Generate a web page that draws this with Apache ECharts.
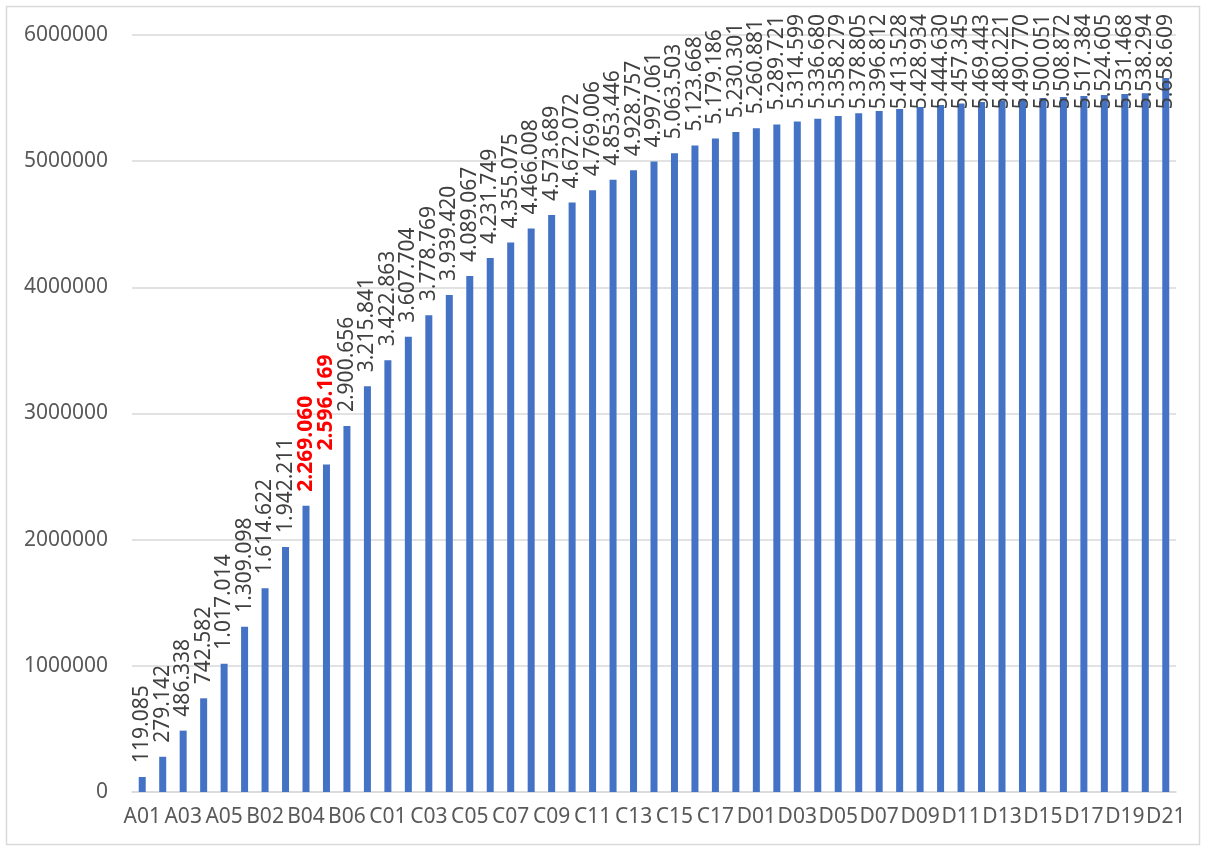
<!DOCTYPE html>
<html>
<head>
<meta charset="utf-8">
<script src="https://cdn.jsdelivr.net/npm/echarts@6/dist/echarts.min.js"></script>
<style>html,body{margin:0;padding:0;background:#fff}#c{width:1206px;height:850px}</style>
</head>
<body>
<div id="c"></div>
<script>
const categories = [
  'A01','A02','A03','A04','A05',
  'B01','B02','B03','B04','B05','B06','B07',
  'C01','C02','C03','C04','C05','C06','C07','C08','C09','C10','C11','C12','C13','C14','C15','C16','C17','C18',
  'D01','D02','D03','D04','D05','D06','D07','D08','D09','D10','D11','D12','D13','D14','D15','D16','D17','D18','D19','D20','D21'
];
const values = [
  119085, 279142, 486338, 742582, 1017014,
  1309098, 1614622, 1942211, 2269060, 2596169, 2900656, 3215841,
  3422863, 3607704, 3778769, 3939420, 4089067, 4231749, 4355075, 4466008, 4573689, 4672072, 4769006, 4853446, 4928757, 4997061, 5063503, 5123668, 5179186, 5230301,
  5260881, 5289721, 5314599, 5336680, 5358279, 5378805, 5396812, 5413528, 5428934, 5444630, 5457345, 5469443, 5480221, 5490770, 5500051, 5508872, 5517384, 5524605, 5531468, 5538294, 5658609
];
const highlighted = ['B04', 'B05'];
const yTicks = { min: 0, max: 6000000, interval: 1000000 };

function fmt(v) {
  return String(v).replace(/\B(?=(\d{3})+(?!\d))/g, '.');
}

const FONT = '"Noto Sans", sans-serif';
const LABEL_TOP_LIMIT = 14;
const data = values.map((v, i) => {
  const item = { value: v };
  if (highlighted.includes(categories[i])) {
    item.label = { color: '#FF0000', fontWeight: 'bold' };
  }
  return item;
});

const chart = echarts.init(document.getElementById('c'), null, { renderer: 'canvas' });
chart.setOption({
  animation: false,
  backgroundColor: '#fff',
  graphic: [{
    type: 'rect',
    shape: { x: 6.5, y: 6.5, width: 1193, height: 838 },
    style: { fill: 'none', stroke: '#D9D9D9', lineWidth: 1.5 },
    silent: true
  }],
  grid: { left: 132, right: 30, top: 35, bottom: 58, containLabel: false },
  xAxis: {
    type: 'category',
    data: categories,
    axisLine: { lineStyle: { color: '#D9D9D9', width: 1.5 } },
    axisTick: { show: false },
    axisLabel: { interval: 1, color: '#595959', fontSize: 21, fontFamily: FONT, margin: 15 }
  },
  yAxis: {
    type: 'value',
    min: yTicks.min, max: yTicks.max, interval: yTicks.interval,
    axisLine: { show: false },
    axisTick: { show: false },
    splitLine: { lineStyle: { color: '#D9D9D9', width: 1.5 } },
    axisLabel: { color: '#595959', fontSize: 21, fontFamily: FONT, margin: 24, formatter: v => String(v) }
  },
  series: [{
    type: 'bar',
    data: data,
    barWidth: 7,
    itemStyle: { color: '#4472C4' },
    label: {
      show: true,
      position: 'top',
      rotate: 90,
      align: 'left',
      verticalAlign: 'middle',
      distance: 14,
      color: '#404040',
      fontSize: 21,
      fontFamily: FONT,
      formatter: p => fmt(p.value)
    },
    labelLayout: function (params) {
      const r = params.labelRect;
      if (r && r.y < LABEL_TOP_LIMIT) {
        return { y: LABEL_TOP_LIMIT + r.height };
      }
      return {};
    }
  }]
});
</script>
</body>
</html>
